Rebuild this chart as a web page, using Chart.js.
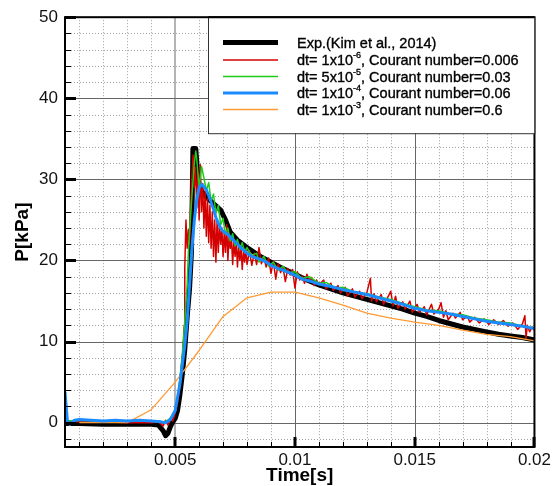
<!DOCTYPE html>
<html>
<head>
<meta charset="utf-8">
<script src="https://cdn.jsdelivr.net/npm/chart.js@4/dist/chart.umd.min.js"></script>
<style>
  html, body { margin: 0; padding: 0; background: #fff; }
</style>
</head>
<body>
<canvas id="lineChart" width="554" height="486"></canvas>
<script>
// axis ticks
const xTicks = [0.005, 0.01, 0.015, 0.02];
const xTickLabels = ['0.005', '0.01', '0.015', '0.02'];
const yTicks = [0, 10, 20, 30, 40, 50];
const yTickLabels = ['0', '10', '20', '30', '40', '50'];

// [time (s), pressure (kPa)]
const expKim = [
  [0.0004, -0.1], [0.001, -0.1], [0.002, -0.2], [0.003, -0.2], [0.004, -0.2], [0.0043, -0.3],
  [0.0045, -1.0], [0.0046, -1.6], [0.0047, -1.3], [0.0048, -0.5], [0.0049, 0.1], [0.0050, 0.5],
  [0.0051, 1.5], [0.0052, 3.5], [0.0053, 6], [0.0054, 9], [0.0055, 13], [0.0056, 16.5],
  [0.00568, 21], [0.00574, 33.8], [0.00586, 33.8], [0.00596, 29.8], [0.0061, 28.6], [0.0063, 27.8],
  [0.0066, 27], [0.0069, 26.2], [0.0071, 25], [0.0073, 23.5], [0.0076, 22.5], [0.0080, 21.6],
  [0.0085, 20.6], [0.0090, 19.8], [0.0095, 19], [0.0100, 18.3], [0.0105, 17.6], [0.0110, 17.0],
  [0.0115, 16.5], [0.0120, 16], [0.0125, 15.6], [0.0130, 15.2], [0.0135, 14.8], [0.0140, 14.4],
  [0.0145, 14], [0.0150, 13.5], [0.0155, 13.1], [0.0160, 12.6], [0.0165, 12.2], [0.0170, 11.8],
  [0.0175, 11.5], [0.0180, 11.2], [0.0185, 10.9], [0.0190, 10.7], [0.0195, 10.5], [0.0200, 10.2]
];

const dt1e5 = [
  [0.0004, 0.1], [0.001, 0.1], [0.002, 0.1], [0.003, 0.0], [0.004, 0.0], [0.0043, 0.1],
  [0.0045, -0.4], [0.0046, 0.3], [0.0047, -0.3], [0.0048, 0.5], [0.0049, 0.2], [0.0050, 1.2],
  [0.0051, 2.5], [0.0052, 4.5], [0.0053, 7.5], [0.00538, 12], [0.0054, 19], [0.00545, 25],
  [0.0055, 21.5], [0.00555, 23.8], [0.0056, 22], [0.00565, 27], [0.0057, 30.5], [0.00575, 33],
  [0.0058, 29], [0.00585, 31.5], [0.0059, 26.5], [0.00595, 30.8], [0.0060, 25], [0.00605, 31.8],
  [0.0061, 26], [0.00615, 29.5], [0.0062, 24], [0.00625, 28.5], [0.0063, 23], [0.00635, 27.6],
  [0.0064, 22.2], [0.00645, 26.8], [0.0065, 21.5], [0.00655, 26], [0.0066, 20.5], [0.00665, 25],
  [0.0067, 19.8], [0.00675, 25], [0.0068, 21], [0.00685, 24.5], [0.0069, 22], [0.00695, 24],
  [0.0070, 20.5], [0.00705, 23.5], [0.0071, 21], [0.00715, 24.4], [0.0072, 20], [0.00725, 23],
  [0.0073, 21.5], [0.00735, 22.8], [0.0074, 19.5], [0.00745, 22.5], [0.0075, 20.5], [0.00755, 22.3],
  [0.0076, 19.2], [0.00765, 21.8], [0.0077, 20], [0.00775, 21.5], [0.0078, 18.9], [0.00785, 21.2],
  [0.0079, 19.8], [0.00795, 21.4], [0.0080, 19.5], [0.0081, 21.2], [0.0082, 19.4], [0.0083, 20.9],
  [0.0084, 19.5], [0.0085, 21.6], [0.0086, 19.6], [0.0087, 20.4], [0.0088, 19.2], [0.0089, 20.3],
  [0.0090, 18.4], [0.0091, 19.9], [0.0092, 17.7], [0.0093, 19.6], [0.0094, 18.5], [0.0095, 19.2],
  [0.0096, 17.4], [0.0097, 19], [0.0098, 18.2], [0.0099, 18.9], [0.0100, 16.6], [0.0101, 18.6],
  [0.0102, 17.6], [0.0103, 18.1], [0.0104, 17.2], [0.0105, 18.3], [0.0106, 17.4], [0.0107, 17.9],
  [0.0108, 16.9], [0.0109, 17.6], [0.0110, 17.0], [0.0112, 17.6], [0.0113, 16.5], [0.0115, 17.2],
  [0.0116, 16.3], [0.0118, 16.9], [0.0119, 16.0], [0.0121, 16.7], [0.0122, 15.6], [0.0124, 16.5],
  [0.0125, 15.5], [0.0127, 16.2], [0.0128, 15.3], [0.0130, 16.0], [0.01315, 17.8], [0.0132, 15.0],
  [0.0133, 15.9], [0.0134, 14.9], [0.0136, 15.8], [0.0137, 14.6], [0.0139, 15.6], [0.0140, 16.2],
  [0.0141, 14.4], [0.0142, 15.6], [0.0143, 14.1], [0.0145, 14.9], [0.0146, 14.0], [0.0148, 15.0],
  [0.0149, 13.6], [0.0151, 14.6], [0.0152, 13.6], [0.0154, 14.3], [0.0155, 13.3], [0.0157, 14.6],
  [0.0158, 13.4], [0.0160, 14.0], [0.0161, 14.8], [0.0162, 13.0], [0.0163, 13.8], [0.0164, 12.7],
  [0.0166, 13.5], [0.0167, 12.9], [0.0169, 13.6], [0.0170, 12.7], [0.0172, 13.1], [0.0173, 12.4],
  [0.0175, 13.0], [0.0177, 12.3], [0.0179, 12.8], [0.0181, 12.1], [0.0183, 12.7], [0.0185, 12.1],
  [0.0187, 12.6], [0.0189, 11.9], [0.0191, 12.3], [0.0193, 11.5], [0.0195, 12.2], [0.0196, 13.2],
  [0.01965, 10.4], [0.0197, 12.0], [0.0198, 11.2], [0.0199, 11.8], [0.0200, 11.4]
];

const dt5e5 = [
  [0.0004, 0.2], [0.001, 0.3], [0.002, 0.2], [0.003, 0.2], [0.004, 0.2], [0.0045, 0.1],
  [0.0047, 0.3], [0.0049, 0.9], [0.0050, 1.6], [0.0051, 3.0], [0.0052, 5.5], [0.0053, 8.5],
  [0.0054, 12.5], [0.0055, 17], [0.00555, 21], [0.0056, 23.5], [0.0057, 28], [0.0058, 32],
  [0.00586, 33.5], [0.0059, 32.5], [0.0060, 29], [0.0061, 31.6], [0.0062, 30.2], [0.0063, 28.6],
  [0.0064, 29.6], [0.0065, 27.3], [0.0066, 28.2], [0.0067, 25.8], [0.0068, 26.8], [0.0069, 24.4],
  [0.0070, 25.2], [0.0071, 23.2], [0.0072, 24], [0.0073, 22.4], [0.0074, 23.3], [0.0075, 21.8],
  [0.0076, 22.6], [0.0077, 21.4], [0.0078, 22.2], [0.0079, 21], [0.0080, 21.6], [0.0082, 20.6],
  [0.0084, 20.9], [0.0085, 19.8], [0.0087, 20.5], [0.0089, 19.3], [0.0091, 19.8], [0.0093, 18.8],
  [0.0095, 19.3], [0.0097, 18.5], [0.0100, 18.6], [0.0103, 17.8], [0.0106, 18], [0.0110, 17.2],
  [0.0113, 17.3], [0.0117, 16.6], [0.0120, 16.7], [0.0125, 16.1], [0.0130, 15.9], [0.0135, 15.5],
  [0.0140, 15.2], [0.0145, 14.7], [0.0150, 14.3], [0.0155, 13.9], [0.0160, 13.8], [0.0165, 13.4],
  [0.0170, 13.3], [0.0175, 12.9], [0.0180, 12.7], [0.0185, 12.4], [0.0190, 12.3], [0.0195, 11.9],
  [0.0200, 11.7]
];

const dt1e4 = [
  [0.0004, 3.8], [0.0005, 0.2], [0.0006, -0.2], [0.0008, 0.3], [0.001, 0.4], [0.0015, 0.3],
  [0.002, 0.2], [0.0025, 0.3], [0.003, 0.2], [0.0035, 0.3], [0.004, 0.2], [0.0044, 0.1],
  [0.0046, 0.0], [0.0048, 0.4], [0.0050, 1.5], [0.0052, 4.8], [0.0054, 9.5], [0.0055, 12.5],
  [0.0056, 17], [0.0057, 21.5], [0.0058, 25], [0.0059, 27.5], [0.0060, 29], [0.0061, 29.4],
  [0.0062, 29.1], [0.0063, 28.7], [0.0064, 28], [0.0065, 27.2], [0.0066, 26.3], [0.0067, 25.3],
  [0.0068, 24.6], [0.0069, 24], [0.0070, 23.6], [0.0072, 23.2], [0.0074, 22.6], [0.0076, 22],
  [0.0078, 21.4], [0.0080, 20.9], [0.0082, 20.5], [0.0084, 20.3], [0.0086, 20.1], [0.0088, 19.8],
  [0.0090, 19.4], [0.0093, 19], [0.0096, 18.7], [0.0100, 18.2], [0.0103, 17.7], [0.0107, 17.4],
  [0.0110, 17.1], [0.0115, 16.8], [0.0120, 16.4], [0.0125, 16.1], [0.0130, 15.8], [0.0135, 15.4],
  [0.0140, 15], [0.0145, 14.6], [0.0150, 14.1], [0.0155, 13.8], [0.0160, 13.6], [0.0165, 13.4],
  [0.0170, 13.1], [0.0175, 12.8], [0.0180, 12.5], [0.0185, 12.3], [0.0190, 12.1], [0.0195, 11.9],
  [0.0200, 11.6]
];

const dt1e3 = [
  [0.001, 0], [0.002, 0], [0.003, 0], [0.004, 1.6], [0.005, 5.0], [0.006, 8.9], [0.007, 13.1],
  [0.008, 15.4], [0.009, 16.1], [0.010, 16.1], [0.011, 15.4], [0.012, 14.5], [0.013, 13.5],
  [0.014, 12.9], [0.015, 12.4], [0.016, 12.0], [0.017, 11.4], [0.018, 10.9], [0.019, 10.6],
  [0.020, 10.1]
];

const legendItems = [
  { base: 'Exp.(Kim et al., 2014)', exp: '', rest: '' },
  { base: 'dt= 1x10', exp: '-6', rest: ', Courant number=0.006' },
  { base: 'dt= 5x10', exp: '-5', rest: ', Courant number=0.03' },
  { base: 'dt= 1x10', exp: '-4', rest: ', Courant number=0.06' },
  { base: 'dt= 1x10', exp: '-3', rest: ', Courant number=0.6' }
];

const FONT = "'Liberation Sans', Arial, sans-serif";

function toXY(arr) {
  return arr.map(p => ({ x: p[0], y: p[1] }));
}

// order: lowest is drawn on top
var datasets = [
  { label: legendItems[0].base, data: toXY(expKim), borderColor: '#000000', borderWidth: 5, order: 4 },
  { label: 'dt=1e-5', data: toXY(dt1e5), borderColor: '#d40000', borderWidth: 1.5, order: 3 },
  { label: 'dt=5e-5', data: toXY(dt5e5), borderColor: '#1ccc1c', borderWidth: 1.5, order: 2 },
  { label: 'dt=1e-4', data: toXY(dt1e4), borderColor: '#1a8cff', borderWidth: 3, order: 0 },
  { label: 'dt=1e-3', data: toXY(dt1e3), borderColor: '#ff9a33', borderWidth: 1.3, order: 1 }
];
datasets.forEach(d => {
  d.pointRadius = 0;
  d.tension = 0;
  d.fill = false;
  d.borderJoinStyle = 'round';
});

// draw text slightly heavier, like the original export
function heavyText(ctx, txt, x, y) {
  ctx.fillText(txt, x, y);
  ctx.lineWidth = 0.35;
  ctx.strokeStyle = '#000';
  ctx.strokeText(txt, x, y);
}

// tecplot style grid, frame and inward ticks
var framePlugin = {
  id: 'frame',
  beforeDatasetsDraw(chart) {
    const { ctx, chartArea: a, scales: { x, y } } = chart;
    ctx.save();
    ctx.beginPath();
    ctx.rect(a.left, a.top, a.right - a.left, a.bottom - a.top);
    ctx.clip();
    ctx.lineWidth = 1;
    ctx.strokeStyle = '#a0a0a0';
    ctx.setLineDash([1, 2]);
    for (let k = 1; k < 20; k++) {
      if (k % 5 === 0) continue;
      const px = Math.round(x.getPixelForValue(k / 1000)) + 0.5;
      ctx.beginPath(); ctx.moveTo(px, a.top); ctx.lineTo(px, a.bottom); ctx.stroke();
    }
    for (let k = -2; k < 50; k += 2) {
      if (k % 10 === 0) continue;
      const py = Math.round(y.getPixelForValue(k)) + 0.5;
      ctx.beginPath(); ctx.moveTo(a.left, py); ctx.lineTo(a.right, py); ctx.stroke();
    }
    ctx.setLineDash([]);
    // 0.005 line is lighter and wider
    let px = Math.round(x.getPixelForValue(0.005));
    ctx.strokeStyle = '#b4b4b4';
    ctx.lineWidth = 2;
    ctx.beginPath(); ctx.moveTo(px, a.top); ctx.lineTo(px, a.bottom); ctx.stroke();
    ctx.strokeStyle = '#666';
    ctx.lineWidth = 1;
    [0.01, 0.015].forEach(v => {
      const p = Math.round(x.getPixelForValue(v)) + 0.5;
      ctx.beginPath(); ctx.moveTo(p, a.top); ctx.lineTo(p, a.bottom); ctx.stroke();
    });
    [0, 10, 20, 30, 40].forEach(v => {
      const p = Math.round(y.getPixelForValue(v)) + 0.5;
      ctx.beginPath(); ctx.moveTo(a.left, p); ctx.lineTo(a.right, p); ctx.stroke();
    });
    ctx.restore();
  },
  afterDatasetsDraw(chart) {
    const { ctx, chartArea: a, scales: { x, y } } = chart;
    ctx.save();
    ctx.strokeStyle = '#000';
    // minor ticks
    ctx.lineWidth = 1;
    for (let k = -2; k < 50; k += 2) {
      if (k % 10 === 0) continue;
      const py = Math.round(y.getPixelForValue(k)) + 0.5;
      ctx.beginPath(); ctx.moveTo(a.left, py); ctx.lineTo(a.left + 6, py); ctx.stroke();
    }
    for (let k = 1; k < 20; k++) {
      if (k % 5 === 0) continue;
      const px = Math.round(x.getPixelForValue(k / 1000)) + 0.5;
      ctx.beginPath(); ctx.moveTo(px, a.bottom); ctx.lineTo(px, a.bottom - 5); ctx.stroke();
    }
    // major ticks
    ctx.lineWidth = 3;
    yTicks.forEach(v => {
      const py = Math.round(y.getPixelForValue(v)) + 0.5;
      ctx.beginPath(); ctx.moveTo(a.left, py); ctx.lineTo(a.left + 11, py); ctx.stroke();
    });
    xTicks.forEach(v => {
      const px = Math.round(x.getPixelForValue(v));
      ctx.beginPath(); ctx.moveTo(px, a.bottom); ctx.lineTo(px, a.bottom - 10); ctx.stroke();
    });
    // frame
    ctx.lineWidth = 2;
    ctx.strokeRect(a.left, a.top, a.right - a.left, a.bottom - a.top);

    // legend box
    const bx = 208, by = a.top, bw = a.right - 208, bh = 116;
    ctx.fillStyle = '#fff';
    ctx.fillRect(bx, by, bw, bh);
    ctx.lineWidth = 1;
    ctx.strokeStyle = '#333';
    ctx.strokeRect(bx + 0.5, by, bw, bh + 0.5);
    ctx.lineWidth = 2;
    ctx.strokeStyle = '#000';
    ctx.beginPath(); ctx.moveTo(bx, by); ctx.lineTo(a.right, by); ctx.stroke();

    const rows = [42.5, 60, 76.5, 93, 109.5];
    legendItems.forEach((it, i) => {
      const ds = chart.data.datasets[i];
      ctx.strokeStyle = ds.borderColor;
      ctx.lineWidth = ds.borderWidth;
      ctx.beginPath(); ctx.moveTo(223, rows[i]); ctx.lineTo(278, rows[i]); ctx.stroke();
      ctx.fillStyle = '#000';
      ctx.textBaseline = 'middle';
      ctx.textAlign = 'left';
      ctx.font = '14.5px ' + FONT;
      let tx = 297;
      heavyText(ctx, it.base, tx, rows[i] + 1);
      tx += ctx.measureText(it.base).width;
      if (it.exp) {
        ctx.font = '9px ' + FONT;
        heavyText(ctx, it.exp, tx, rows[i] - 4);
        tx += ctx.measureText(it.exp).width;
        ctx.font = '14.5px ' + FONT;
        heavyText(ctx, it.rest, tx, rows[i] + 1);
      }
    });
    ctx.restore();
  }
};

var ctx = document.getElementById('lineChart').getContext('2d');
var myChart = new Chart(ctx, {
  type: 'line',
  data: { datasets: datasets },
  options: {
    responsive: false,
    animation: false,
    layout: { padding: { top: 15, right: 17, left: 0, bottom: 0 } },
    plugins: { legend: { display: false }, tooltip: { enabled: false } },
    scales: {
      x: {
        type: 'linear',
        min: 0.0004,
        max: 0.02,
        afterBuildTicks: s => { s.ticks = xTicks.map(v => ({ value: v })); },
        afterFit: s => { s.height = 39; },
        grid: { display: false, drawTicks: false },
        border: { display: false },
        ticks: {
          autoSkip: false, maxRotation: 0, padding: 3, color: '#111',
          font: { size: 17, family: FONT },
          callback: v => { const i = xTicks.indexOf(v); return i >= 0 ? xTickLabels[i] : ''; }
        },
        title: { display: true, text: 'Time[s]', color: '#000', padding: { top: 0, bottom: -1 },
                 font: { size: 19, weight: 'bold', family: FONT } }
      },
      y: {
        type: 'linear',
        min: -3,
        max: 50,
        afterBuildTicks: s => { s.ticks = yTicks.map(v => ({ value: v })); },
        afterFit: s => { s.width = 65; },
        grid: { display: false, drawTicks: false },
        border: { display: false },
        ticks: {
          autoSkip: false, padding: 7, color: '#111',
          font: { size: 17, family: FONT },
          callback: v => { const i = yTicks.indexOf(v); return i >= 0 ? yTickLabels[i] : ''; }
        },
        title: { display: true, text: 'P[kPa]', color: '#000', padding: { top: 11, bottom: 0 },
                 font: { size: 19, weight: 'bold', family: FONT } }
      }
    }
  },
  plugins: [framePlugin]
});
</script>
</body>
</html>
